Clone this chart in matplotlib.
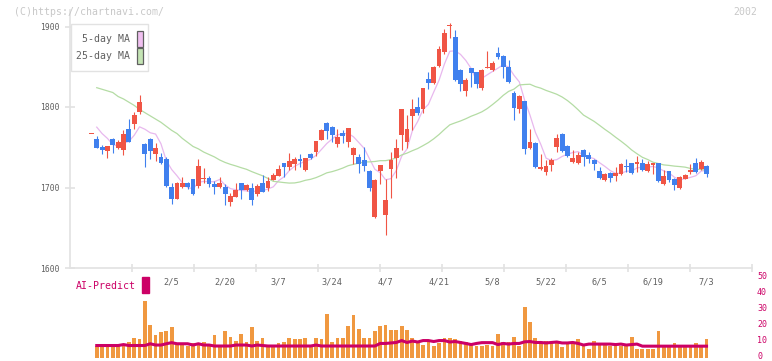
import numpy as np
import pandas as pd
import matplotlib
matplotlib.use("Agg")
import matplotlib.pyplot as plt
from matplotlib.patches import Rectangle

plt.rcParams['font.family'] = ['DejaVu Sans Mono']

# ---- data (one entry per trading day) ----
opens = [1767, 1760, 1750, 1745, 1760, 1749, 1746, 1773, 1779, 1794,
         1754, 1760, 1741, 1738, 1735, 1701, 1686, 1701, 1706, 1711,
         1702, 1711, 1712, 1704, 1701, 1701, 1682, 1688, 1706, 1697,
         1699, 1692, 1706, 1699, 1709, 1714, 1730, 1725, 1729, 1735,
         1722, 1742, 1744, 1759, 1780, 1775, 1754, 1768, 1757, 1740,
         1738, 1734, 1720, 1663, 1720, 1666, 1723, 1737, 1765, 1757,
         1789, 1800, 1797, 1835, 1830, 1851, 1868, 1901, 1887, 1846,
         1820, 1848, 1843, 1824, 1849, 1846, 1867, 1863, 1850, 1817,
         1798, 1807, 1749, 1755, 1723, 1719, 1728, 1750, 1766, 1752,
         1732, 1730, 1747, 1740, 1734, 1720, 1709, 1718, 1714, 1717,
         1727, 1730, 1729, 1730, 1720, 1728, 1730, 1704, 1720, 1711,
         1699, 1711, 1719, 1730, 1723, 1727]
highs = [1767, 1764, 1753, 1752, 1762, 1759, 1771, 1785, 1794, 1815,
         1755, 1762, 1755, 1743, 1738, 1705, 1707, 1713, 1707, 1711,
         1735, 1724, 1714, 1708, 1713, 1704, 1693, 1706, 1706, 1704,
         1705, 1704, 1716, 1713, 1718, 1728, 1731, 1743, 1738, 1742,
         1737, 1743, 1758, 1773, 1781, 1776, 1773, 1771, 1774, 1750,
         1742, 1750, 1722, 1710, 1728, 1711, 1744, 1760, 1798, 1790,
         1810, 1812, 1824, 1844, 1851, 1876, 1897, 1904, 1896, 1847,
         1836, 1849, 1844, 1847, 1870, 1857, 1875, 1864, 1859, 1820,
         1815, 1808, 1773, 1756, 1742, 1734, 1737, 1767, 1768, 1753,
         1747, 1744, 1748, 1744, 1735, 1725, 1718, 1719, 1725, 1730,
         1735, 1731, 1739, 1735, 1733, 1731, 1731, 1722, 1721, 1712,
         1714, 1717, 1729, 1737, 1734, 1728]
lows = [1767, 1749, 1741, 1737, 1743, 1748, 1740, 1756, 1773, 1791,
        1725, 1736, 1733, 1729, 1701, 1680, 1686, 1699, 1698, 1691,
        1700, 1705, 1701, 1692, 1700, 1678, 1677, 1688, 1686, 1696,
        1678, 1690, 1694, 1696, 1709, 1714, 1713, 1722, 1722, 1725,
        1721, 1736, 1739, 1759, 1760, 1757, 1750, 1755, 1750, 1729,
        1718, 1720, 1696, 1662, 1704, 1641, 1687, 1712, 1747, 1749,
        1772, 1790, 1792, 1822, 1829, 1850, 1866, 1886, 1832, 1820,
        1814, 1825, 1824, 1821, 1848, 1845, 1860, 1836, 1830, 1784,
        1792, 1741, 1748, 1724, 1722, 1715, 1721, 1744, 1744, 1738,
        1731, 1729, 1727, 1730, 1722, 1710, 1708, 1707, 1708, 1716,
        1719, 1717, 1719, 1721, 1719, 1717, 1707, 1703, 1707, 1697,
        1698, 1710, 1717, 1718, 1722, 1713]
closes = [1767, 1749, 1746, 1752, 1753, 1757, 1767, 1757, 1790, 1806,
          1742, 1745, 1749, 1730, 1702, 1686, 1706, 1706, 1701, 1692,
          1727, 1712, 1704, 1701, 1706, 1692, 1690, 1697, 1697, 1703,
          1684, 1702, 1694, 1708, 1716, 1723, 1725, 1733, 1735, 1733,
          1737, 1737, 1758, 1771, 1770, 1765, 1763, 1764, 1774, 1749,
          1729, 1727, 1699, 1709, 1728, 1685, 1734, 1749, 1798, 1773,
          1798, 1792, 1823, 1830, 1850, 1872, 1892, 1902, 1833, 1828,
          1834, 1842, 1828, 1846, 1850, 1855, 1862, 1850, 1831, 1799,
          1814, 1748, 1757, 1725, 1725, 1727, 1734, 1762, 1745, 1739,
          1737, 1740, 1738, 1735, 1729, 1712, 1717, 1712, 1718, 1729,
          1725, 1718, 1732, 1722, 1729, 1730, 1708, 1714, 1709, 1703,
          1713, 1716, 1722, 1719, 1732, 1717]
volumes = [np.nan, 7.8, 8.9, 7.8, 7.8, 7.8, 8.9, 10.3, 12.2, 11.8,
           35.9, 20.9, 14.1, 16.0, 16.6, 19.1, 8.9, 8.9, 7.8, 9.6,
           9.6, 10.3, 7.8, 14.1, 7.8, 16.6, 13.4, 10.9, 14.7, 10.3,
           19.1, 10.9, 12.8, 7.8, 7.8, 9.6, 10.3, 12.6, 11.6, 11.6,
           12.8, 7.8, 12.8, 11.8, 27.8, 10.3, 12.2, 12.8, 20.3, 26.6,
           18.4, 12.8, 12.8, 16.6, 20.3, 20.9, 17.2, 17.8, 20.3, 17.2,
           12.8, 10.9, 8.4, 10.3, 7.2, 9.1, 12.8, 12.8, 11.6, 10.9,
           9.7, 8.4, 7.2, 7.8, 8.4, 7.8, 15.3, 10.3, 10.3, 13.4,
           7.8, 31.6, 22.2, 12.2, 10.3, 10.9, 10.3, 10.9, 6.6, 9.1,
           10.3, 11.6, 8.4, 5.9, 10.9, 9.1, 9.1, 7.8, 7.8, 7.8,
           7.2, 13.4, 5.9, 5.9, 5.9, 5.9, 16.6, 7.2, 7.2, 9.1,
           7.8, 7.2, 7.8, 9.1, 7.8, 11.6]
ai_predict = [np.nan, 7.8, 7.8, 7.8, 7.8, 7.8, 8.4, 7.8, 7.8, 7.8,
              7.8, 8.9, 8.1, 8.1, 8.9, 9.6, 8.9, 8.9, 8.9, 8.1,
              8.9, 8.1, 8.1, 7.5, 7.5, 7.5, 7.5, 8.1, 8.1, 8.1,
              7.5, 8.1, 7.8, 7.5, 7.5, 7.5, 7.5, 7.5, 7.5, 7.5,
              7.5, 7.5, 8.1, 7.5, 7.5, 7.5, 7.5, 7.5, 7.5, 7.5,
              7.5, 7.5, 7.5, 7.5, 9.1, 9.1, 9.4, 9.7, 10.9, 9.7,
              10.6, 10.0, 10.9, 10.9, 10.3, 10.9, 10.9, 10.0, 10.3, 9.7,
              9.1, 8.4, 9.1, 9.6, 9.6, 9.6, 8.4, 9.1, 8.7, 9.1,
              9.1, 10.1, 10.3, 9.7, 9.7, 9.4, 9.7, 10.0, 9.4, 9.4,
              9.7, 9.1, 8.1, 8.7, 8.7, 8.7, 8.7, 8.7, 8.4, 8.7,
              8.1, 8.4, 8.7, 7.4, 7.4, 7.4, 7.4, 7.4, 7.4, 7.4,
              7.4, 7.4, 7.4, 7.4, 7.4, 7.4]
# closes before the window (only needed for the first 5-day MA points)
pre_closes = [1786, 1782, 1791]
# 25-day MA for the first days (history not shown)
ma25_head = [np.nan, 1824, 1822, 1820, 1818, 1813, 1810, 1806, 1802, 1797,
             1793, 1789, 1785, 1781, 1776, 1771, 1767, 1761, 1756, 1751,
             1748, 1744, 1741, 1738]
date_labels = ["2/5", "2/20", "3/7", "3/24", "4/7", "4/21", "5/8",
               "5/22", "6/5", "6/19", "7/3"]
date_idx = [15, 25, 35, 45, 55, 65, 75, 85, 95, 105, 115]
vol_ticks = [0, 10, 20, 30, 40, 50]

n = len(closes)
x = np.arange(n)
o = np.array(opens, float)
c = np.array(closes, float)
h = np.array(highs, float)
l = np.array(lows, float)

ma5 = pd.Series(pre_closes + closes).rolling(5).mean().to_numpy()[len(pre_closes):]
ma5[0] = np.nan
ma25 = pd.Series(closes).rolling(25).mean().to_numpy()
ma25[:len(ma25_head)] = ma25_head

W, H = 772, 361
fig = plt.figure(figsize=(W / 100, H / 100), dpi=100)


def box(l_px, t_px, r_px, b_px):
    return [l_px / W, 1 - b_px / H, (r_px - l_px) / W, (b_px - t_px) / H]


RED = "#f05545"
BLUE = "#4080ee"
AXC = "#e2e2e2"
TXT = "#606060"
MAG = "#cc0066"

# ---- price panel ----
ax = fig.add_axes(box(70, 10, 752, 268))
ax.set_xlim(-4, 123.5)
ax.set_ylim(1600, 1600 + 258 / 0.805)

up = c >= o
col = np.where(up, RED, BLUE)
ax.vlines(x, l, h, colors=col, lw=0.8, zorder=3)
body_lo = np.minimum(o, c)
body_h = np.maximum(np.abs(c - o), 1.3)
ax.bar(x, body_h, bottom=body_lo, width=0.9, color=col, lw=0, zorder=4)

ax.plot(x, ma5, color="#e8b8ee", lw=0.9, zorder=2)
ax.plot(x, ma25, color="#b4dca4", lw=0.9, zorder=2)

for s in ["top", "right"]:
    ax.spines[s].set_visible(False)
for s in ["left", "bottom"]:
    ax.spines[s].set_color(AXC)
    ax.spines[s].set_linewidth(1.2)
ax.set_yticks([1600, 1700, 1800, 1900])
ax.set_xticks(np.linspace(-4, 123.5, 12)[1:])
ax.set_xticklabels([])
ax.tick_params(axis="y", direction="inout", length=7, width=1.2, color=AXC,
               labelsize=5.8, labelcolor=TXT, pad=4)
ax.tick_params(axis="x", direction="inout", length=6, width=1.2, color=AXC)

for lab, i in zip(date_labels, date_idx):
    ax.text(i, -0.055, lab, transform=ax.get_xaxis_transform(), ha="center",
            va="center", fontsize=6.2, color=TXT)

# ---- volume / AI panel ----
axv = fig.add_axes(box(70, 278, 752, 358))
axv.set_xlim(-4, 123.5)
axv.set_ylim(0, 50)
axv.patch.set_alpha(0)
axv.bar(x, volumes, width=0.7, color="#f09840", lw=0, zorder=1)
axv.plot(x, ai_predict, color=MAG, lw=2.2, zorder=2)
for s in axv.spines.values():
    s.set_visible(False)
axv.set_xticks([])
axv.set_yticks([])
for v in vol_ticks:
    ypx = 358 - v * 1.6 - 1.5
    fig.text(757 / W, 1 - ypx / H, str(v), fontsize=6, color=MAG,
             va="center", ha="left")

# ---- texts, legend ----
fig.text(14 / W, 1 - 12 / H, "(C)https://chartnavi.com/", fontsize=7.1,
         color="#c8c8c8", va="center", ha="left")
fig.text(757 / W, 1 - 12 / H, "2002", fontsize=7.1, color="#c8c8c8",
         va="center", ha="right")
fig.text(76 / W, 1 - 286 / H, "AI-Predict", fontsize=7.1, color=MAG,
         va="center", ha="left")
fig.patches.append(Rectangle((142 / W, 1 - 293 / H), 7 / W, 16 / H,
                             transform=fig.transFigure, color=MAG))

fig.patches.append(Rectangle((70.5 / W, 1 - 71 / H), 77.5 / W, 47 / H,
                             transform=fig.transFigure, facecolor="white",
                             edgecolor=AXC, lw=1.0, zorder=5))
for ty, lab, fc in [(39, "5-day MA", "#f0c0f0"), (56, "25-day MA", "#c4e4b4")]:
    fig.text(130 / W, 1 - ty / H, lab, fontsize=7.1, color=TXT, va="center",
             ha="right", zorder=6)
    fig.patches.append(Rectangle((137 / W, 1 - (ty + 7.5) / H), 5.5 / W, 15 / H,
                                 transform=fig.transFigure, facecolor=fc,
                                 edgecolor="#606060", lw=0.9, zorder=6))

fig.savefig("out.png", dpi=100)
